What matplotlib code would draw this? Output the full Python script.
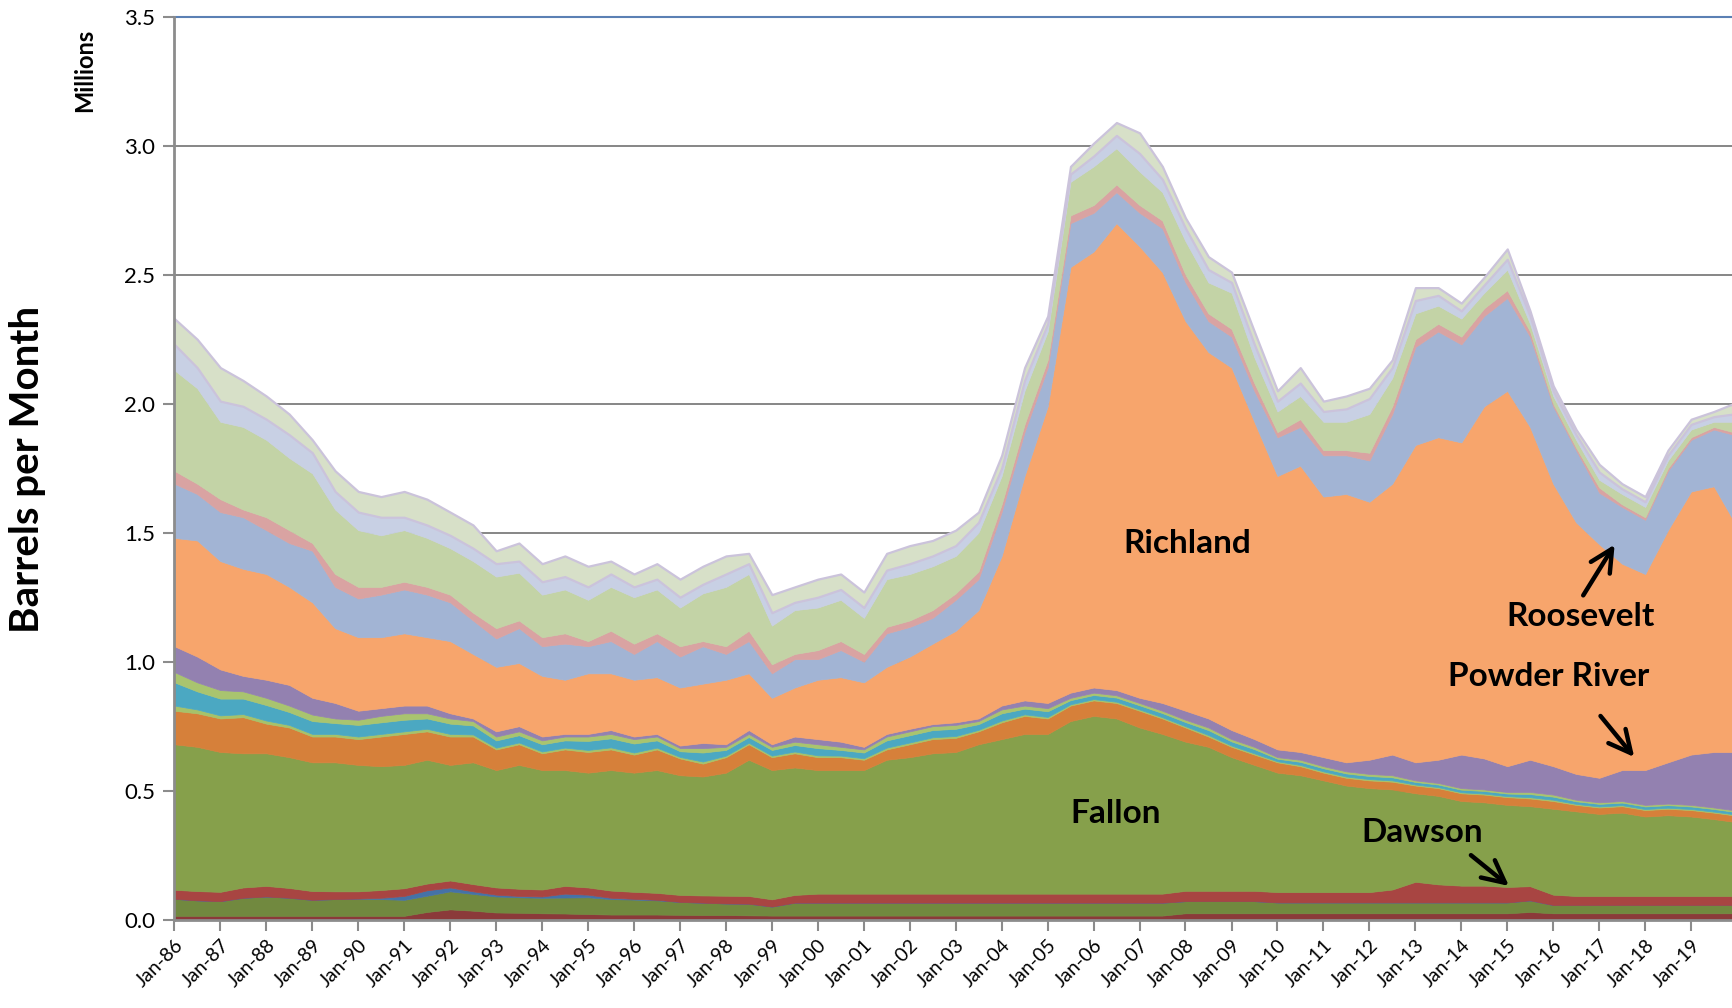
import matplotlib
matplotlib.use("Agg")
import matplotlib.pyplot as plt
import matplotlib.dates as mdates
import pandas as pd

plt.rcParams['font.family'] = ['Lato', 'DejaVu Sans']

# half-yearly readings, Jan-86 .. Dec-19 (millions of barrels per month)
dates = list(pd.date_range('1986-01-01', '2019-07-01', freq='6MS')) + [pd.Timestamp('2019-12-01')]

dark_red = [.015, .015, .015, .015, .015, .015, .015, .015, .015, .015,
            .015, .030, .040, .035, .028, .027, .025, .024, .022, .020,
            .020, .020, .019, .018, .018, .017, .016, .016, .016, .016,
            .016, .016, .016, .016, .016, .016, .016, .016, .016, .016,
            .016, .016, .016, .016, .025, .025, .025, .025, .025, .025,
            .025, .025, .025, .025, .025, .025, .025, .025, .025, .030,
            .025, .025, .025, .025, .025, .025, .025, .025, .025]
olive = [.066, .060, .057, .070, .075, .070, .062, .065, .067, .065,
         .062, .063, .070, .065, .062, .060, .060, .062, .065, .060,
         .058, .055, .050, .048, .045, .045, .035, .050, .050, .050,
         .050, .050, .050, .050, .050, .050, .050, .050, .050, .050,
         .050, .050, .050, .050, .047, .047, .047, .047, .042, .042,
         .042, .042, .042, .042, .042, .042, .042, .042, .042, .045,
         .032, .032, .032, .032, .032, .032, .032, .032, .032]
blue = [0, 0, 0, 0, 0, 0, 0, 0, 0, .005,
        .015, .021, .015, .010, .007, .005, .005, .015, .010, .005,
        .003, .002, 0, 0, 0, 0, 0, 0, 0, 0,
        0, 0, 0, 0, 0, 0, 0, 0, 0, 0,
        0, 0, 0, 0, 0, 0, 0, 0, 0, 0,
        0, 0, 0, 0, 0, 0, 0, 0, 0, 0,
        0, 0, 0, 0, 0, 0, 0, 0, 0]
dawson = [.035, .036, .036, .040, .041, .038, .034, .030, .028, .030,
          .030, .026, .027, .028, .028, .028, .027, .030, .028, .028,
          .027, .027, .027, .028, .030, .030, .028, .030, .035, .035,
          .035, .035, .035, .035, .035, .035, .035, .035, .035, .035,
          .035, .035, .035, .035, .040, .040, .040, .040, .040, .040,
          .040, .040, .040, .050, .080, .070, .065, .065, .060, .055,
          .040, .035, .035, .035, .035, .035, .035, .035, .035]
fallon = [.564, .559, .542, .520, .514, .507, .499, .500, .490, .480,
          .478, .480, .448, .472, .455, .480, .463, .449, .445, .467,
          .462, .476, .464, .461, .477, .528, .501, .494, .479, .479,
          .479, .519, .529, .544, .549, .579, .599, .619, .619, .669,
          .689, .679, .644, .619, .578, .558, .518, .488, .463, .453,
          .433, .413, .403, .388, .343, .343, .328, .323, .318, .310,
          .333, .328, .318, .323, .308, .313, .308, .298, .288]
orange = [.130, .130, .130, .140, .115, .115, .100, .100, .100, .115,
          .120, .110, .110, .100, .080, .080, .065, .080, .080, .080,
          .070, .080, .065, .050, .060, .060, .050, .055, .050, .050,
          .040, .040, .050, .055, .055, .050, .065, .070, .060, .060,
          .060, .060, .065, .060, .055, .040, .040, .040, .040, .035,
          .030, .030, .030, .030, .030, .030, .030, .030, .030, .030,
          .030, .025, .025, .025, .025, .025, .025, .025, .025]
green_a = [.020, .015, .012, .012, .012, .010, .010, .010, .010, .010,
           .010, .010, .010, .008, .007, .007, .007, .007, .008, .008,
           .008, .007, .006, .008, .006, .006, .006, .007, .007, .006,
           .006, .007, .007, .007, .007, .006, .007, .006, .006, .005,
           .005, .005, .005, .005, .005, .006, .005, .005, .004, .005,
           .005, .005, .005, .005, .004, .004, .004, .004, .004, .005,
           .005, .004, .004, .004, .004, .004, .004, .004, .004]
teal = [.090, .070, .065, .060, .060, .050, .050, .042, .045, .045,
        .045, .040, .040, .035, .028, .028, .028, .028, .035, .035,
        .035, .028, .022, .035, .022, .022, .022, .025, .028, .022,
        .022, .028, .028, .028, .028, .022, .028, .022, .022, .016,
        .016, .016, .016, .016, .016, .019, .016, .016, .010, .012,
        .012, .012, .012, .012, .010, .010, .010, .010, .010, .012,
        .012, .010, .010, .010, .010, .010, .010, .010, .010]
green_b = [.040, .035, .033, .028, .028, .025, .025, .018, .020, .025,
           .025, .020, .020, .017, .015, .015, .015, .015, .017, .017,
           .017, .015, .012, .017, .012, .012, .012, .013, .015, .012,
           .012, .015, .015, .015, .015, .012, .015, .012, .012, .009,
           .009, .009, .009, .009, .009, .010, .009, .009, .006, .008,
           .008, .008, .008, .008, .006, .006, .006, .006, .006, .008,
           .008, .006, .006, .006, .006, .006, .006, .006, .006]
powder_river = [.100, .100, .080, .060, .070, .080, .065, .060, .035, .030,
                .030, .030, .020, .010, .020, .020, .015, .010, .010, .015,
                .010, .010, .010, .020, .010, .015, .010, .020, .020, .020,
                .010, .010, .010, .008, .010, .010, .015, .020, .020, .020,
                .020, .020, .020, .030, .035, .035, .035, .030, .030, .030,
                .035, .035, .055, .080, .070, .090, .130, .120, .100, .125,
                .110, .100, .095, .120, .135, .160, .195, .215, .225]
richland = [.420, .450, .420, .415, .410, .380, .370, .290, .285, .275,
            .280, .265, .280, .250, .250, .245, .235, .210, .235, .220,
            .220, .220, .225, .230, .250, .220, .180, .190, .230, .250,
            .250, .260, .280, .312, .355, .420, .580, .870, 1.150, 1.650,
            1.690, 1.810, 1.750, 1.670, 1.510, 1.420, 1.405, 1.230, 1.060, 1.110,
            1.010, 1.040, 1.000, 1.050, 1.230, 1.250, 1.210, 1.365, 1.455, 1.290,
            1.095, .975, .905, .800, .760, .900, 1.020, 1.030, .900]
roosevelt = [.210, .180, .190, .200, .170, .170, .200, .160, .150, .165,
             .170, .165, .150, .130, .110, .135, .115, .140, .105, .125,
             .100, .140, .120, .145, .100, .125, .095, .110, .080, .105,
             .080, .130, .115, .100, .120, .120, .170, .170, .150, .170,
             .150, .120, .130, .170, .150, .120, .120, .120, .150, .150,
             .160, .150, .160, .270, .380, .410, .380, .350, .360, .350,
             .300, .280, .200, .220, .210, .230, .200, .220, .330]
pink = [.050, .040, .050, .030, .050, .050, .030, .050, .045, .030,
        .030, .030, .030, .030, .040, .030, .035, .040, .020, .040,
        .040, .030, .040, .020, .030, .040, .035, .020, .035, .035,
        .030, .025, .025, .030, .025, .030, .030, .030, .030, .030,
        .030, .030, .030, .030, .030, .030, .030, .030, .020, .030,
        .020, .020, .030, .030, .030, .030, .030, .030, .030, .020,
        .010, .010, .020, .010, .010, .010, .010, .010, .010]
light_green = [.390, .370, .300, .320, .300, .280, .270, .250, .220, .200,
               .200, .190, .180, .200, .200, .185, .165, .170, .160, .170,
               .180, .170, .150, .185, .230, .220, .150, .170, .165, .160,
               .140, .185, .180, .170, .145, .150, .110, .130, .110, .130,
               .150, .140, .130, .110, .130, .120, .140, .100, .080, .090,
               .110, .110, .150, .110, .100, .070, .070, .060, .080, .030,
               .030, .030, .030, .040, .040, .030, .030, .020, .040]
lavender = [.100, .080, .080, .080, .080, .090, .080, .070, .070, .070,
            .050, .050, .050, .050, .050, .045, .050, .050, .050, .050,
            .040, .040, .040, .035, .050, .040, .050, .030, .040, .040,
            .040, .035, .040, .040, .040, .040, .030, .040, .030, .030,
            .040, .050, .070, .050, .050, .050, .040, .050, .040, .050,
            .040, .050, .060, .040, .050, .040, .030, .030, .040, .030,
            .020, .020, .030, .020, .020, .020, .020, .020, .030]
pale_green = [.100, .110, .130, .100, .090, .080, .050, .080, .080, .080,
              .100, .100, .090, .090, .050, .070, .070, .080, .080, .050,
              .050, .060, .070, .070, .070, .040, .070, .060, .070, .060,
              .060, .065, .070, .060, .060, .040, .050, .050, .030, .030,
              .050, .050, .080, .050, .040, .050, .040, .050, .040, .060,
              .040, .050, .040, .030, .050, .030, .030, .030, .040, .020,
              .020, .020, .030, .020, .020, .020, .020, .020, .040]

series = [dark_red, olive, blue, dawson, fallon, orange, green_a, teal, green_b,
          powder_river, richland, roosevelt, pink, light_green, lavender, pale_green]
colors = ['#8B3A3A', '#71893F', '#4572A7', '#A84542', '#86A04B', '#D6803A', '#A6C26A',
          '#4BA8C2', '#A9C46F', '#9381B0', '#F7A56C', '#A2B4D4', '#D9A3A2', '#C3D3A6',
          '#C8D0E4', '#D7E0C8']

fig = plt.figure(figsize=(17.32, 10.08), dpi=100)
ax = fig.add_axes([0.1007, 0.0876, 0.8993, 0.8958])

polys = ax.stackplot(dates, *series, colors=colors, zorder=2)
for p, c in zip(polys, colors):
    p.set_edgecolor(c)
    p.set_linewidth(0.5)
# thin lavender rim on the top layer
polys[-1].set_edgecolor('#CBC3DB')
polys[-1].set_linewidth(1.6)

ax.set_ylim(0, 3.5)
ax.set_yticks([0, 0.5, 1.0, 1.5, 2.0, 2.5, 3.0, 3.5])
ax.yaxis.set_major_formatter(matplotlib.ticker.FormatStrFormatter('%.1f'))
ax.set_xlim(pd.Timestamp('1986-01-01'), pd.Timestamp('2019-11-22'))
ax.xaxis.set_major_locator(mdates.YearLocator(1, month=1, day=1))
ax.xaxis.set_major_formatter(mdates.DateFormatter('%b-%y'))

ax.grid(axis='y', color='#868686', linewidth=1.4, zorder=1)
ax.set_axisbelow(True)
for side in ['left', 'bottom']:
    ax.spines[side].set_color('#8C8C8C')
    ax.spines[side].set_linewidth(2)
    ax.spines[side].set_zorder(3)
ax.spines['top'].set_color('#5B80B4')
ax.spines['top'].set_linewidth(1.5)
ax.spines['right'].set_visible(False)

ax.tick_params(axis='both', colors='#8C8C8C', length=8, width=1.5, labelcolor='black')
ax.tick_params(axis='y', labelsize=16, pad=6)
ax.tick_params(axis='x', labelsize=14, pad=4)
for lbl in ax.get_xticklabels():
    lbl.set_rotation(45)
    lbl.set_ha('right')
    lbl.set_va('top')
    lbl.set_rotation_mode('anchor')

fig.text(0.0156, 0.534, 'Barrels per Month', rotation=90, fontsize=29,
         fontweight='bold', ha='center', va='center')
fig.text(0.049, 0.93, 'Millions', rotation=90, fontsize=17,
         fontweight='bold', ha='center', va='center')


def d(s):
    return mdates.date2num(pd.Timestamp(s))


lab = dict(fontsize=24, fontweight='bold', ha='center', va='center', zorder=5)
ax.text(d('2008-01-15'), 1.458, 'Richland', **lab)
ax.text(d('2006-06-25'), 0.412, 'Fallon', **lab)
ax.text(d('2013-02-20'), 0.339, 'Dawson', **lab)
ax.text(d('2016-08-07'), 1.175, 'Roosevelt', **lab)
ax.text(d('2015-11-25'), 0.944, 'Powder River', **lab)

arrow = dict(arrowstyle='->', lw=3.2, color='black', mutation_scale=40)
ax.annotate('', xy=(d('2015-02-01'), 0.124), xytext=(d('2014-03-01'), 0.257), arrowprops=arrow)
ax.annotate('', xy=(d('2017-05-15'), 1.463), xytext=(d('2016-08-15'), 1.248), arrowprops=arrow)
ax.annotate('', xy=(d('2017-10-20'), 0.622), xytext=(d('2016-12-28'), 0.798), arrowprops=arrow)

fig.savefig('out.png', dpi=100)
